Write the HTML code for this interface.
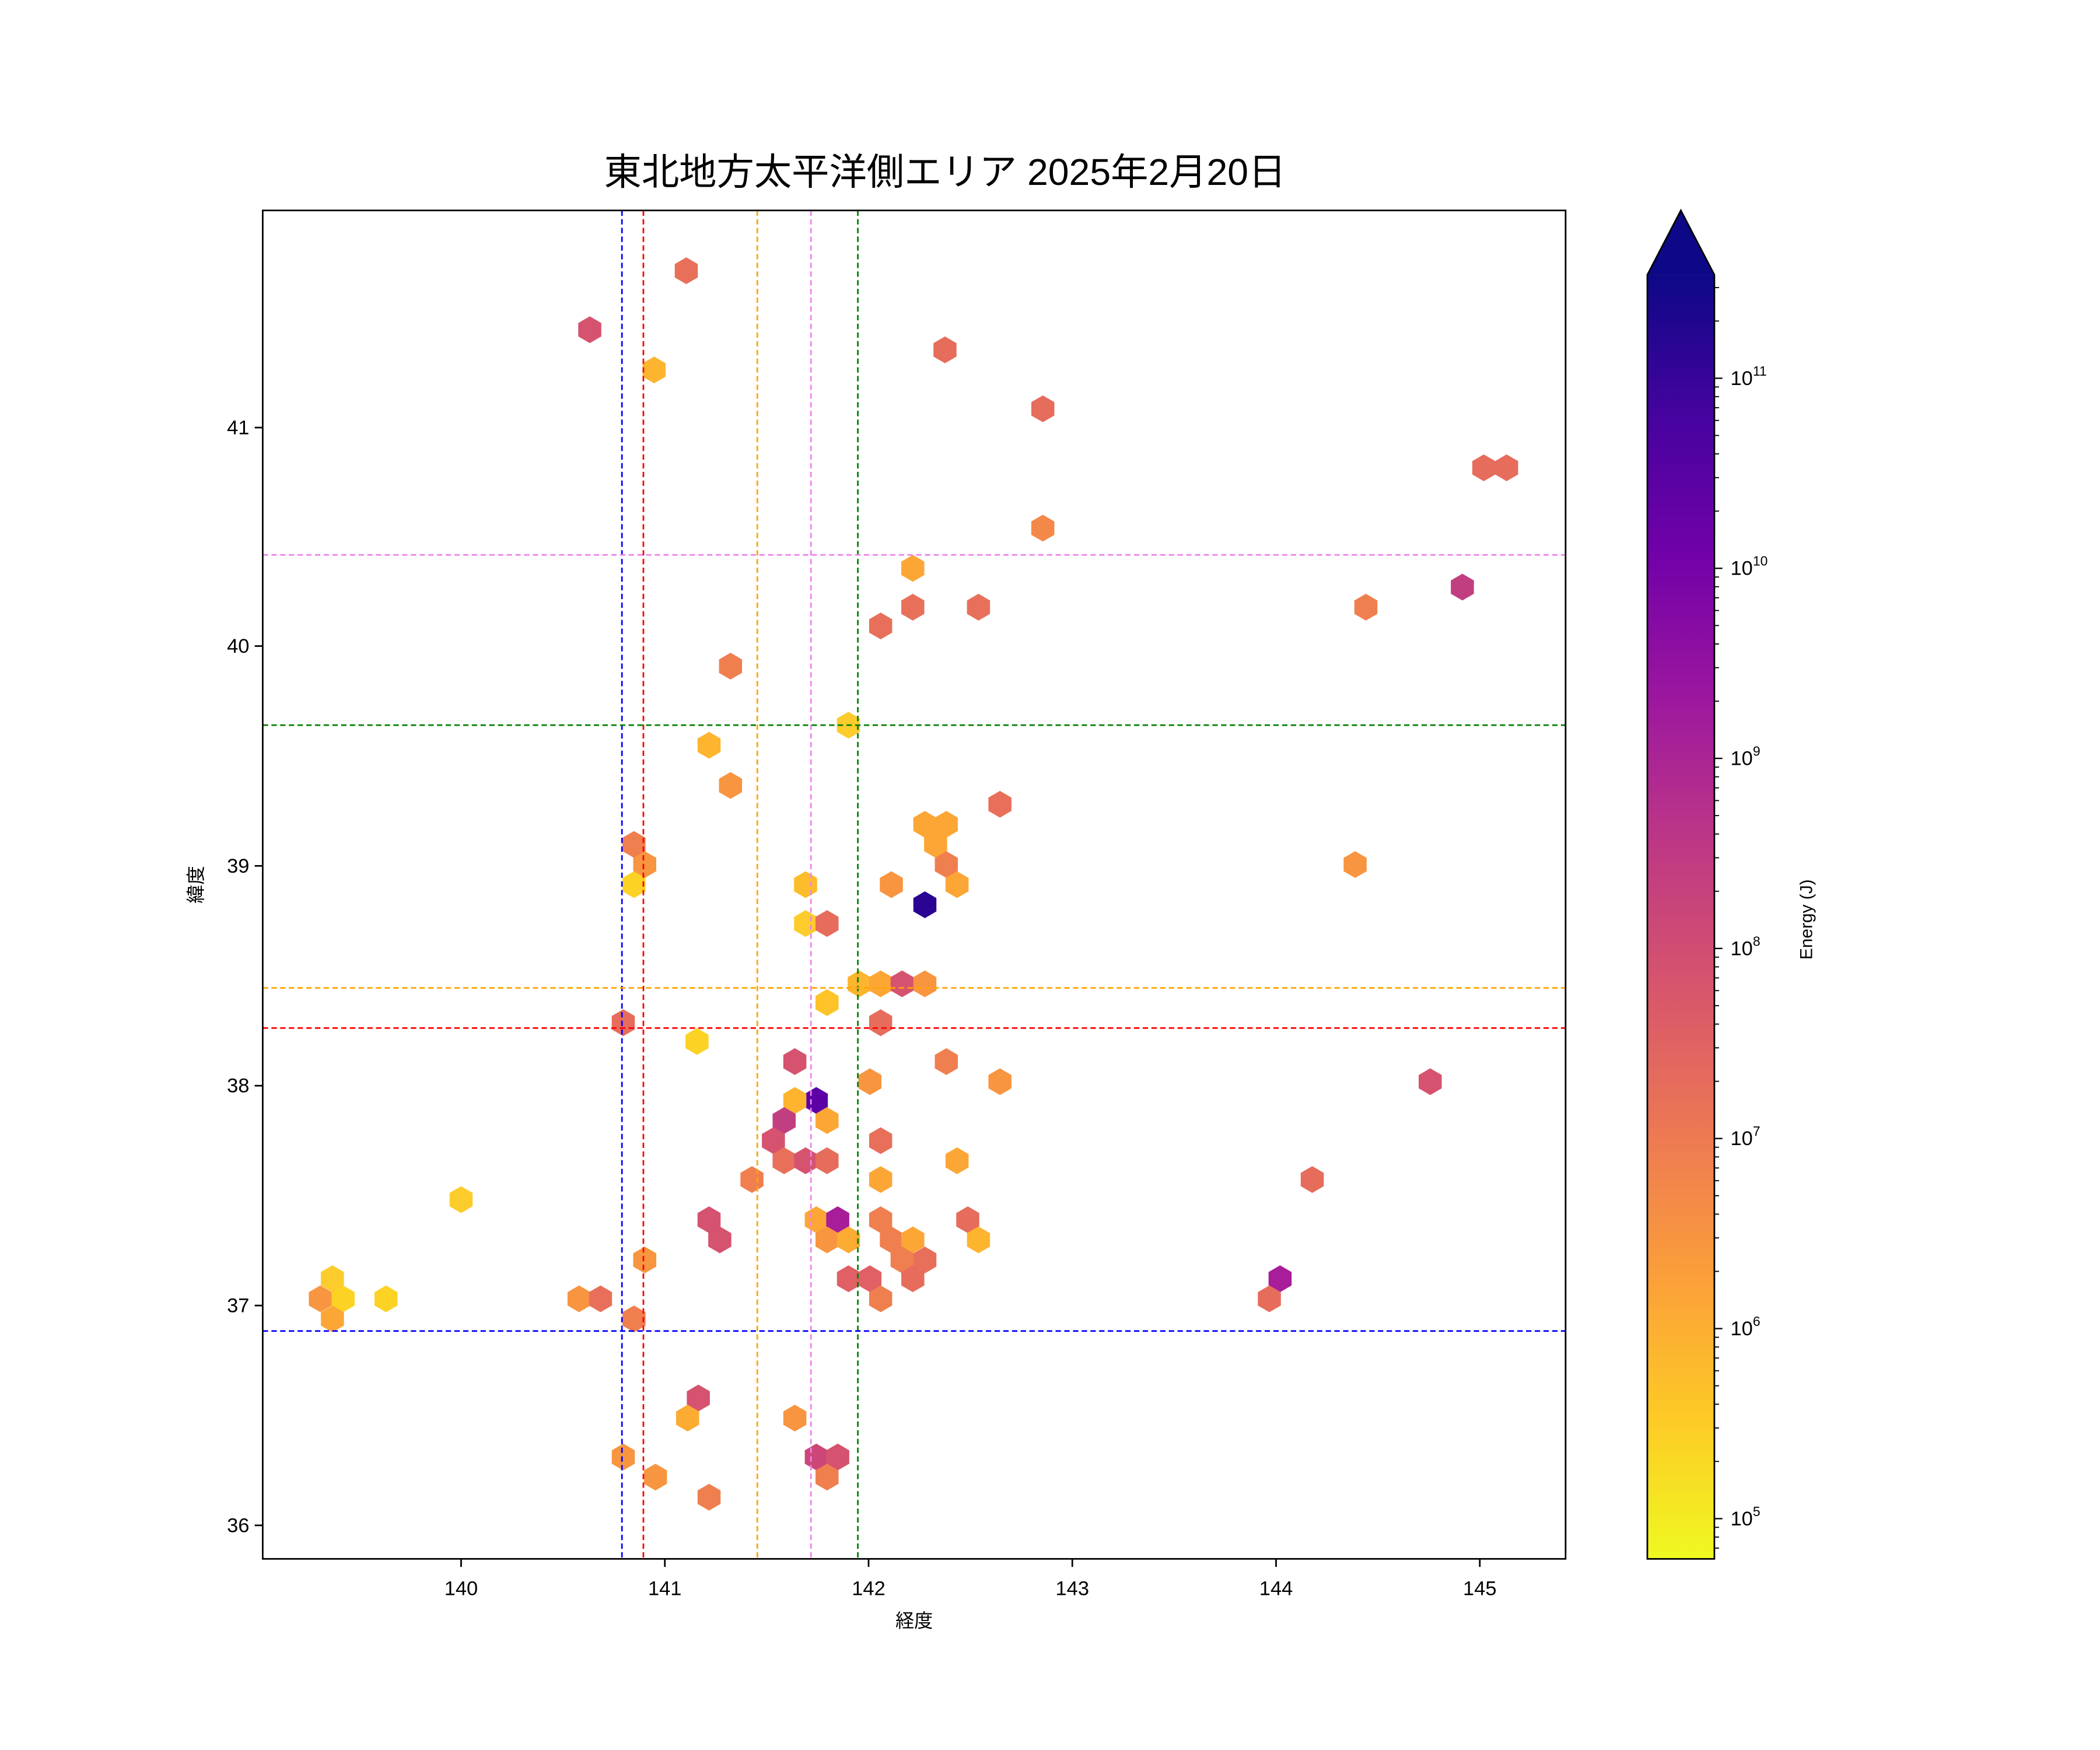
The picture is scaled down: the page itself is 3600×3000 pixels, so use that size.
<!DOCTYPE html>
<html><head><meta charset="utf-8"><style>
html,body{margin:0;padding:0;background:#fff;}
svg{display:block;}
text{font-family:"Liberation Sans","Noto Sans CJK JP",sans-serif;fill:#000;}
</style></head><body>
<svg id="s" width="3600" height="3000" viewBox="0 0 1566.7 1305.6" preserveAspectRatio="none" xmlns="http://www.w3.org/2000/svg">
<defs>
<linearGradient id="g" x1="0" y1="1" x2="0" y2="0">
<stop offset="0" stop-color="#f0f921"/><stop offset="0.11" stop-color="#fdca26"/>
<stop offset="0.22" stop-color="#fb9f3a"/><stop offset="0.33" stop-color="#ed7953"/>
<stop offset="0.44" stop-color="#d8576b"/><stop offset="0.56" stop-color="#bd3786"/>
<stop offset="0.67" stop-color="#9c179e"/><stop offset="0.78" stop-color="#7201a8"/>
<stop offset="0.89" stop-color="#46039f"/><stop offset="1" stop-color="#0d0887"/>
</linearGradient>
<polygon id="h" points="0,-10 8.6,-5 8.6,5 0,10 -8.6,5 -8.6,-5"/>
</defs>
<rect width="1570" height="1310" fill="#fff"/>
<text x="705" y="138" font-size="28" text-anchor="middle">東北地方太平洋側エリア 2025年2月20日</text>
<g id="hex"></g>
<g stroke-dasharray="4,2.5" stroke-width="1.2" fill="none">
<line x1="464" y1="157" x2="464" y2="1163" stroke="#0000ff"/>
<line x1="480" y1="157" x2="480" y2="1163" stroke="#ff0000"/>
<line x1="565" y1="157" x2="565" y2="1163" stroke="#ffa500"/>
<line x1="605" y1="157" x2="605" y2="1163" stroke="#ee82ee"/>
<line x1="640" y1="157" x2="640" y2="1163" stroke="#008000"/>
<line x1="196" y1="414" x2="1168" y2="414" stroke="#ee82ee"/>
<line x1="196" y1="541" x2="1168" y2="541" stroke="#008000"/>
<line x1="196" y1="737" x2="1168" y2="737" stroke="#ffa500"/>
<line x1="196" y1="767" x2="1168" y2="767" stroke="#ff0000"/>
<line x1="196" y1="993" x2="1168" y2="993" stroke="#0000ff"/>
</g>
<rect x="196" y="157" width="972" height="1006" fill="none" stroke="#000" stroke-width="1.2"/>
<g id="ticks" stroke="#000" stroke-width="1.2"></g>
<g id="tl" font-size="15"></g>
<text x="682" y="1214" font-size="14" text-anchor="middle">経度</text>
<text x="0" y="0" font-size="14" text-anchor="middle" transform="translate(151,660) rotate(-90)">緯度</text>
<rect x="1229" y="205" width="50" height="958" fill="url(#g)"/>
<polygon points="1229,205 1254,157 1279,205" fill="#0d0887"/>
<polygon points="1229,1163 1229,205 1254,157 1279,205 1279,1163" fill="none" stroke="#000" stroke-width="1.2"/>
<g id="cb" stroke="#000" stroke-width="1"></g>
<g id="cbl" font-size="15"></g>
<text x="0" y="0" font-size="13" text-anchor="middle" transform="translate(1352,686) rotate(-90)">Energy (J)</text>
</svg>
<script>
var NS="http://www.w3.org/2000/svg";
function el(p,t,a,txt){var e=document.createElementNS(NS,t);for(var k in a)e.setAttribute(k,a[k]);if(txt!==undefined)e.textContent=txt;document.getElementById(p).appendChild(e);return e;}
var H=[[512,202,"e8705a"],[440,246,"d5536f"],[488,276,"fdb42f"],[705,261,"e66c5c"],[778,305,"e66c5c"],[1107,349,"e66c5c"],[1124,349,"e66c5c"],[778,394,"f48849"],[681,424,"fca636"],[1091,438,"c13f80"],[657,467,"e8705a"],[681,453,"e8705a"],[730,453,"e8705a"],[1019,453,"f07f4f"],[545,497,"f07f4f"],[633,541,"fccc2c"],[529,556,"fdb42f"],[545,586,"f89540"],[746,600,"e8705a"],[690,615,"fca636"],[706,615,"fca636"],[698,630,"fca636"],[473,630,"f07f4f"],[481,645,"f89540"],[473,660,"fcd225"],[706,645,"f07f4f"],[714,660,"fca636"],[665,660,"f89540"],[601,660,"fcbd2a"],[1011,645,"f89540"],[690,675,"2a0593"],[601,689,"fccc2c"],[617,689,"e66c5c"],[641,734,"fdb42f"],[657,734,"fca636"],[673,734,"d5536f"],[690,734,"f89540"],[617,748,"fdc328"],[465,763,"e66c5c"],[657,763,"e66c5c"],[520,777,"fcd225"],[593,792,"d5536f"],[706,792,"f07f4f"],[649,807,"f89540"],[746,807,"f89540"],[1067,807,"d5536f"],[609,821,"5c01a6"],[593,821,"fdb42f"],[585,836,"c13f80"],[617,836,"fca636"],[577,851,"d5536f"],[657,851,"e8705a"],[585,866,"e8705a"],[601,866,"d5536f"],[617,866,"e66c5c"],[714,866,"fca636"],[561,880,"f07f4f"],[657,880,"fca636"],[979,880,"e66c5c"],[344,895,"fccc2c"],[529,910,"d5536f"],[609,910,"fca636"],[625,910,"a71d9a"],[657,910,"f07f4f"],[722,910,"e66c5c"],[537,925,"d5536f"],[617,925,"f89540"],[633,925,"fcab33"],[665,925,"f07f4f"],[681,925,"fca636"],[730,925,"fdb42f"],[481,940,"f89540"],[673,940,"f07f4f"],[690,940,"e8705a"],[248,954,"fccc2c"],[633,954,"e06065"],[649,954,"e06065"],[681,954,"e66c5c"],[955,954,"a71d9a"],[239,969,"f89540"],[256,969,"fcd225"],[288,969,"fcd225"],[432,969,"f89540"],[448,969,"e8705a"],[657,969,"f07f4f"],[947,969,"e66c5c"],[248,984,"fca636"],[473,984,"f07f4f"],[521,1043,"d5536f"],[513,1058,"fcab33"],[593,1058,"f89540"],[465,1087,"f89540"],[609,1087,"cc4778"],[625,1087,"d5536f"],[489,1102,"f89540"],[617,1102,"f07f4f"],[529,1117,"f07f4f"]];
H.forEach(function(h){el("hex","use",{href:"#h",x:h[0],y:h[1],fill:"#"+h[2]});});
for(var i=0;i<6;i++){var x=344+i*152;el("ticks","line",{x1:x,y1:1163,x2:x,y2:1169});el("tl","text",{x:x,y:1190,"text-anchor":"middle"},String(140+i));}
var ly=[319,482,646,810,974,1138],lv=[41,40,39,38,37,36];
for(var i=0;i<6;i++){el("ticks","line",{x1:190,y1:ly[i],x2:196,y2:ly[i]});el("tl","text",{x:186,y:ly[i]+5,"text-anchor":"end"},String(lv[i]));}
var D=141.8;
for(var e=4;e<=11;e++){for(var m=1;m<10;m++){var y=1133-(e-5+Math.log10(m))*D;if(y>1163||y<205)continue;
 if(m==1){el("cb","line",{x1:1279,y1:y,x2:1285,y2:y});var t=el("cbl","text",{x:1291,y:y+5});t.textContent="10";var s=document.createElementNS(NS,"tspan");s.setAttribute("dy","-7");s.setAttribute("font-size","10");s.textContent=String(e);t.appendChild(s);}
 else el("cb","line",{x1:1279,y1:y,x2:1282.5,y2:y,"stroke-width":"0.8"});}}
</script>
</body></html>
